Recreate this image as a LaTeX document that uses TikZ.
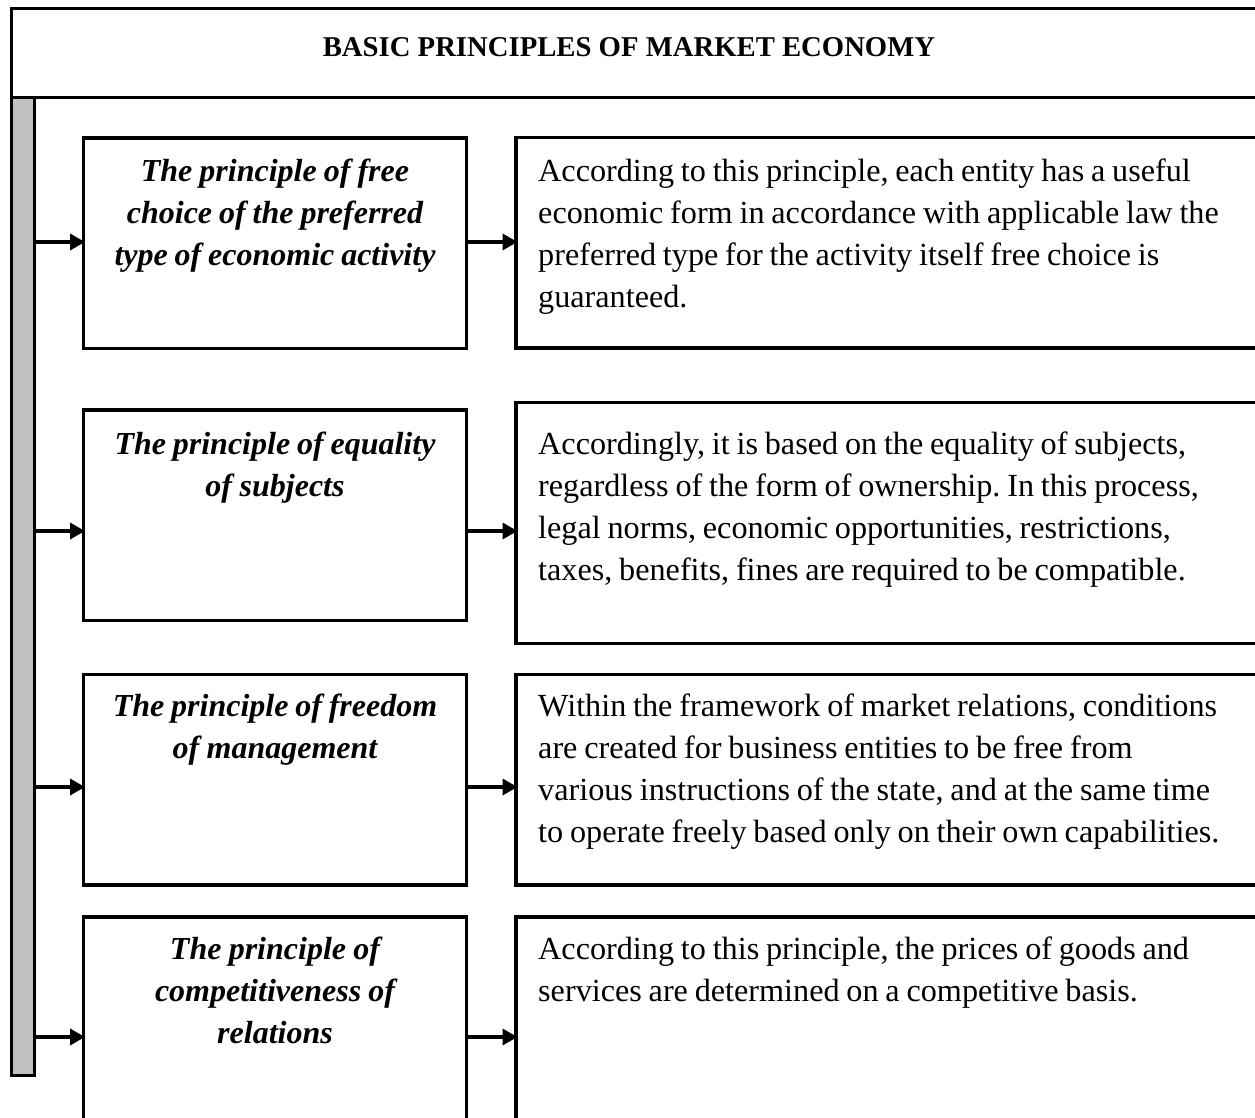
\documentclass[tikz,border=0pt]{standalone}
\usepackage{fontspec}
\setmainfont{Liberation Serif}
\usetikzlibrary{arrows.meta}
\definecolor{barfill}{RGB}{192,192,192}
\frenchspacing
\tikzset{
  frame/.style={draw=black, line width=3.5pt, outer sep=0pt, inner sep=0pt, anchor=north west, rectangle},
  lbox/.style={frame, minimum width=383pt},
  rbox/.style={frame, minimum width=764pt},
  ltext/.style={anchor=base, inner sep=0pt, text width=383pt, align=center, font=\fontsize{32}{42}\selectfont\bfseries\itshape, execute at begin node={\spaceskip=6.6pt plus 0.5pt minus 0.5pt\relax}},
  rtext/.style={anchor=base west, inner sep=0pt, text width=740pt, align=left, font=\fontsize{32.2}{42}\selectfont, execute at begin node={\spaceskip=6.8pt plus 0.5pt minus 0.5pt\relax}},
  arr/.style={line width=3.5pt, -{Triangle[length=15pt,width=16pt]}, shorten >=-1.5pt}
}
\begin{document}
\begin{tikzpicture}[x=1pt,y=-1pt]
\useasboundingbox[fill=white] (0,0) rectangle (1255,1118);
% header
\node[frame, minimum width=1263.5pt, minimum height=89pt] (head) at (11.5,8.5) {};
\node[anchor=base, inner sep=0pt, font=\fontsize{28.7}{34}\selectfont\bfseries] (title) at (629,57) {BASIC PRINCIPLES OF MARKET ECONOMY};
% side bar
\node[frame, fill=barfill, minimum width=23pt, minimum height=978pt] (bar) at (11.5,97.5) {};
% left boxes
\node[lbox, minimum height=210.5pt] (l1) at (83.5,138) {};
\node[lbox, minimum height=210.5pt] (l2) at (83.5,410) {};
\node[lbox, minimum height=210.3pt] (l3) at (83.5,674.7) {};
\node[lbox, minimum height=240pt] (l4) at (83.5,917) {};
% right boxes
\node[rbox, minimum height=210.5pt] (r1) at (516,137.5) {};
\node[rbox, minimum height=241pt] (r2) at (516,402.3) {};
\node[rbox, minimum height=210.3pt] (r3) at (516,674.7) {};
\node[rbox, minimum height=240pt] (r4) at (516,917) {};
% left texts
\node[ltext] (t1) at (275,182) {The principle of free\\choice of the preferred\\type of economic activity};
\node[ltext] (t2) at (275,454) {The principle of equality\\of subjects};
\node[ltext] (t3) at (275,716) {The principle of freedom\\of management};
\node[ltext] (t4) at (275,959) {The principle of\\competitiveness of\\relations};
% right texts
\node[rtext] (d1) at (538,182) {According to this principle, each entity has a useful\\economic form in accordance with applicable law the\\preferred type for the activity itself free choice is\\guaranteed.};
\node[rtext] (d2) at (538,454) {Accordingly, it is based on the equality of subjects,\\regardless of the form of ownership. In this process,\\legal norms, economic opportunities, restrictions,\\taxes, benefits, fines are required to be compatible.};
\node[rtext] (d3) at (538,716) {Within the framework of market relations, conditions\\are created for business entities to be free from\\various instructions of the state, and at the same time\\to operate freely based only on their own capabilities.};
\node[rtext] (d4) at (538,959) {According to this principle, the prices of goods and\\services are determined on a competitive basis.};
% arrow levels
\coordinate (a1) at (0,242);
\coordinate (a2) at (0,531);
\coordinate (a3) at (0,787);
\coordinate (a4) at (0,1037);
\foreach \i in {1,2,3,4}{
  \draw[arr] (bar.east |- a\i) -- (l\i.west |- a\i);
  \draw[arr] (l\i.east |- a\i) -- (r\i.west |- a\i);
}
\end{tikzpicture}
\end{document}
